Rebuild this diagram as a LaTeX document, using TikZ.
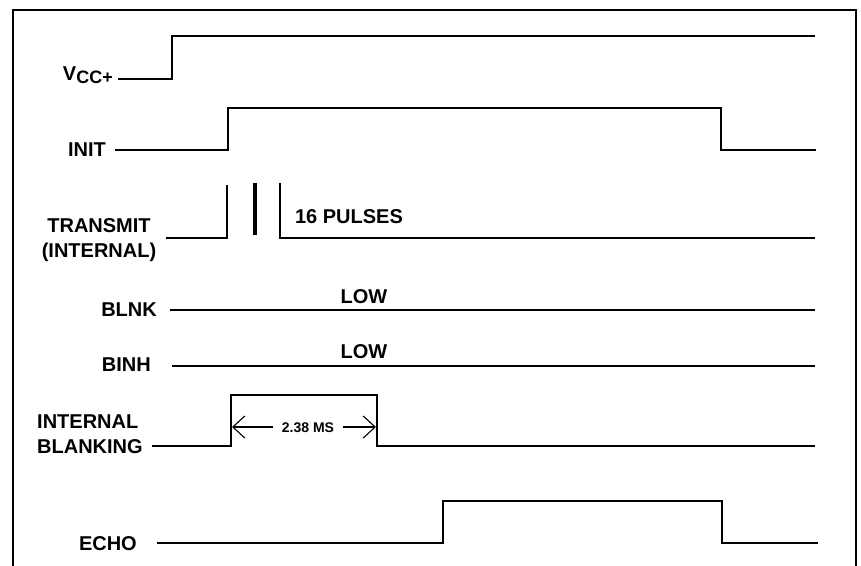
\documentclass[tikz,border=0pt]{standalone}
\usepackage{fontspec}
\setmainfont{Liberation Sans}
\usetikzlibrary{arrows.meta}
\begin{document}
\begin{tikzpicture}[x=1pt,y=-1pt,
  sig/.style={line width=2.3pt,line join=miter,line cap=butt},
  frame/.style={line width=2.3pt},
  lbl/.style={inner sep=0pt,font=\fontsize{20}{25}\selectfont\bfseries},
  dimlbl/.style={inner xsep=9pt,inner ysep=0pt,font=\fontsize{14}{16}\selectfont\bfseries},
  dimarrow/.style={line width=1.1pt,-{Straight Barb[length=12pt,width=22pt,line width=1.1pt]}}]
\useasboundingbox (0,0) rectangle (861,565);
% frame
\draw[frame] (13,566) -- (13,10) -- (856,10) -- (856,566);
% labels
\node[lbl,anchor=base east] (vcc) at (113,80) {V\raisebox{-3pt}{\fontsize{18}{18}\selectfont CC+}};
\node[lbl,anchor=base east] (init) at (106,156) {INIT};
\node[lbl,align=center,anchor=base] (tx) at (99,257) {TRANSMIT\\(INTERNAL)};
\node[lbl,anchor=base east] (blnk) at (157,316) {BLNK};
\node[lbl,anchor=base east] (binh) at (151,371) {BINH};
\node[lbl,align=left,anchor=base west] (ib) at (37,453) {INTERNAL\\BLANKING};
\node[lbl,anchor=base east] (echo) at (137,550) {ECHO};
\node[lbl,anchor=base] (pulses) at (349,223) {16 PULSES};
\node[lbl,anchor=base] (low1) at (364,303) {LOW};
\node[lbl,anchor=base] (low2) at (364,358) {LOW};
% waveforms
\draw[sig] (vcc.east |- 0,79) ++(5,0) coordinate (v0) -- (172,79) -- (172,36) -- (815,36);
\draw[sig] (init.east |- 0,150) ++(9,0) coordinate (i0) -- (228,150) -- (228,108) -- (721,108) -- (721,150) -- (816,150);
\draw[sig] (166,238) coordinate (t0) -- (227,238) -- (227,185);
\draw[line width=4pt] (255,183) -- (255,235);
\draw[sig] (280,183) -- (280,238) -- (815,238);
\draw[sig] (170,310) coordinate (b0) -- (815,310);
\draw[sig] (172,366) coordinate (h0) -- (815,366);
\draw[sig] (152,446) coordinate (ib0) -- (231,446) coordinate (ibL) -- (231,395) -- (377,395) -- (377,446) coordinate (ibR) -- (815,446);
\draw[sig] (157,543) coordinate (e0) -- (443,543) -- (443,501) -- (722,501) -- (722,543) -- (818,543);
% dimension
\node[dimlbl,anchor=base] (dim) at (308,432) {2.38 MS};
\coordinate (dimL) at (232,427);
\coordinate (dimR) at (376,427);
\draw[dimarrow] (dim.west |- dimL) -- (dimL);
\draw[dimarrow] (dim.east |- dimR) -- (dimR);
\end{tikzpicture}
\end{document}
